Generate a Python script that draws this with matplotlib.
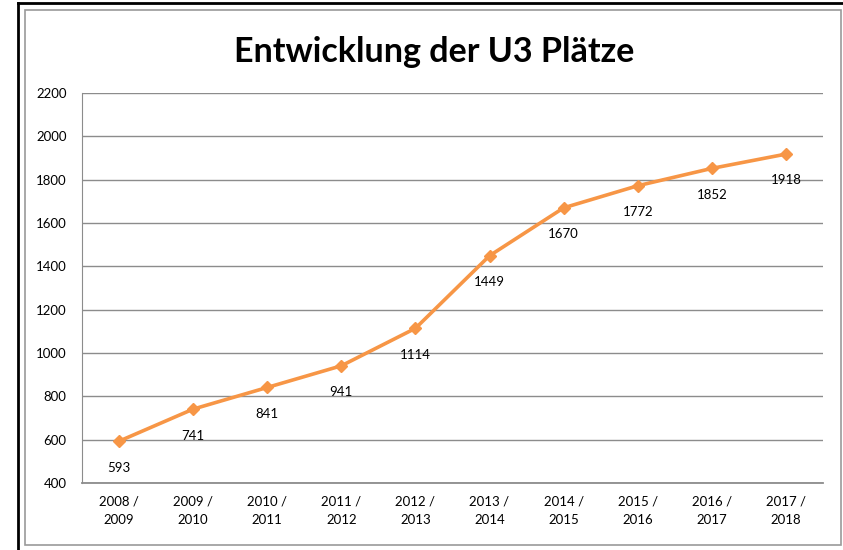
import matplotlib
matplotlib.use("Agg")
import matplotlib.pyplot as plt
from matplotlib.lines import Line2D
from matplotlib.patches import Rectangle

categories = ["2008 /\n2009", "2009 /\n2010", "2010 /\n2011", "2011 /\n2012", "2012 /\n2013",
              "2013 /\n2014", "2014 /\n2015", "2015 /\n2016", "2016 /\n2017", "2017 /\n2018"]
values = [593, 741, 841, 941, 1114, 1449, 1670, 1772, 1852, 1918]
yticks = [400, 600, 800, 1000, 1200, 1400, 1600, 1800, 2000, 2200]
title = "Entwicklung der U3 Plätze"

plt.rcParams['font.family'] = ['Lato', 'DejaVu Sans']
W, H = 843, 550
fig = plt.figure(figsize=(W / 100, H / 100), dpi=100)
fig.patch.set_facecolor("white")

# outer borders
fig.add_artist(Line2D([18 / W, 18 / W], [0, 1 - 3 / H], color="black", lw=2, transform=fig.transFigure))
fig.add_artist(Line2D([18 / W, 1], [1 - 3 / H, 1 - 3 / H], color="black", lw=2, transform=fig.transFigure))
fig.add_artist(Rectangle((25 / W, 1 - 545 / H), (841 - 25) / W, (545 - 10) / H, fill=False,
                         edgecolor="#9a9a9a", lw=1.2, transform=fig.transFigure))

left, right, top, bottom = 82, 823, 93, 483
ax = fig.add_axes([left / W, 1 - bottom / H, (right - left) / W, (bottom - top) / H])
x = list(range(len(values)))
ax.plot(x, values, color="#F79646", lw=2.6, marker="D", ms=6.5, zorder=3)
for xi, v in zip(x, values):
    ax.annotate(str(v), (xi, v), xytext=(0, -19), textcoords="offset points",
                ha="center", va="center", fontsize=9.5, color="black")

ax.set_xlim(-0.5, len(values) - 0.5)
ax.set_ylim(400, 2200)
ax.set_yticks(yticks)
ax.set_xticks(x)
ax.set_xticklabels(categories, fontsize=9.5, linespacing=1.6)
ax.tick_params(axis="y", length=0, pad=11, labelsize=9.5)
ax.tick_params(axis="x", length=0, pad=9)
ax.grid(axis="y", color="#8c8c8c", lw=1)
ax.set_axisbelow(True)
for s in ["top", "right"]:
    ax.spines[s].set_visible(False)
ax.spines["left"].set_color("#8c8c8c")
ax.spines["bottom"].set_color("#8c8c8c")
ax.spines["bottom"].set_linewidth(1.3)

fig.text(434 / W, 1 - 62 / H, title, ha="center", va="baseline", fontsize=24.5, fontweight="bold")

fig.savefig("out.png", dpi=100)
